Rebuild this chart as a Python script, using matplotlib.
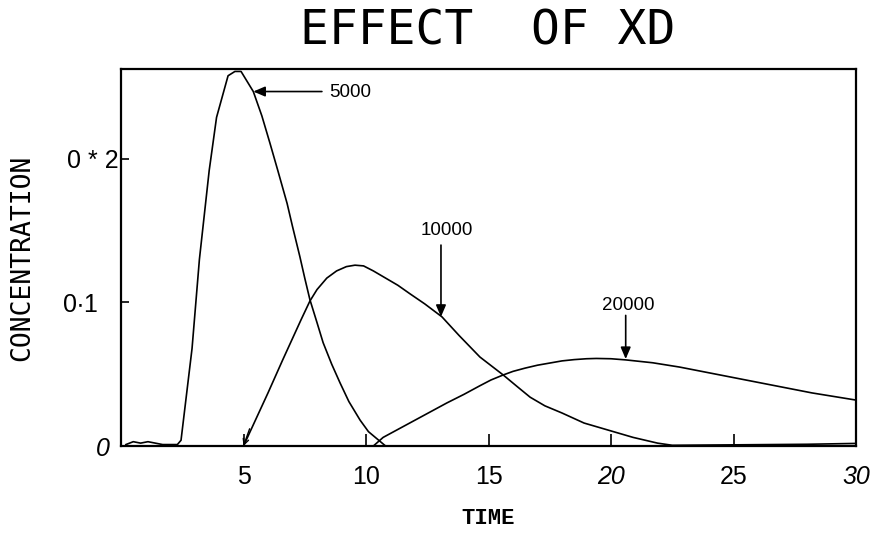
import matplotlib
matplotlib.use("Agg")
import matplotlib.pyplot as plt

# concentration vs time for three XD values
t_5000 = [0.2, 0.5, 0.8, 1.1, 1.4, 1.7, 2.0, 2.3, 2.45, 2.9, 3.2, 3.6, 3.9,
          4.37, 4.65, 4.9, 5.4, 5.75, 6.08, 6.4, 6.78, 7.0, 7.3, 7.5, 7.71,
          8.0, 8.25, 8.6, 8.94, 9.3, 9.76, 10.1, 10.45, 10.8, 12.0, 15.0]
c_5000 = [0.001, 0.003, 0.002, 0.003, 0.002, 0.001, 0.001, 0.001, 0.004,
          0.068, 0.130, 0.192, 0.229, 0.258, 0.261, 0.261, 0.247, 0.230,
          0.211, 0.192, 0.169, 0.153, 0.132, 0.117, 0.102, 0.086, 0.072,
          0.057, 0.044, 0.031, 0.018, 0.010, 0.005, 0.0, 0.0, 0.0]

t_10000 = [5.0, 6.0, 6.6, 7.35, 7.71, 8.0, 8.4, 8.8, 9.2, 9.55, 9.9, 10.3,
           10.8, 11.3, 11.8, 12.4, 13.1, 13.8, 14.65, 15.6, 16.2, 16.7,
           17.3, 18.0, 18.9, 19.9, 20.9, 21.9, 22.5, 25.0, 28.0, 30.0]
c_10000 = [0.0, 0.037, 0.060, 0.088, 0.101, 0.109, 0.117, 0.122, 0.125,
           0.126, 0.1255, 0.122, 0.117, 0.112, 0.106, 0.099, 0.090, 0.077,
           0.062, 0.0495, 0.041, 0.034, 0.028, 0.023, 0.016, 0.011, 0.006,
           0.002, 0.0005, 0.0008, 0.0012, 0.0018]

t_20000 = [10.3, 10.7, 12.0, 13.3, 14.0, 14.65, 15.1, 15.6, 16.0, 16.5,
           17.0, 17.4, 18.0, 18.5, 19.0, 19.4, 20.0, 20.6, 21.7, 22.8, 24.0,
           25.5, 27.0, 28.2, 30.0]
c_20000 = [0.0, 0.006, 0.018, 0.030, 0.036, 0.042, 0.046, 0.0495, 0.052,
           0.0543, 0.0563, 0.0575, 0.0593, 0.0602, 0.0608, 0.061, 0.0608,
           0.060, 0.058, 0.055, 0.051, 0.046, 0.041, 0.037, 0.032]

# labels: text, arrow tip (on curve), arrow tail, text position
labels = ['5000', '10000', '20000']
tips = [(5.4, 0.247), (13.06, 0.090), (20.6, 0.0606)]
tails = [(8.2, 0.247), (13.06, 0.140), (20.6, 0.091)]
text_pos = [(8.5, 0.246), (13.3, 0.150), (20.7, 0.098)]

xticks = [5, 10, 15, 20, 25, 30]
xtick_labels = ['5', '10', '15', '20', '25', '30']
yticks = [0, 0.1, 0.2]
ytick_labels = ['0', '0\u22191', '0 * 2']

fig = plt.figure(figsize=(8.71, 5.34), dpi=100)
ax = fig.add_axes([121 / 871, 88 / 534, 735 / 871, 377 / 534])

for t, c in [(t_5000, c_5000), (t_10000, c_10000), (t_20000, c_20000)]:
    ax.plot(t, c, color='black', lw=1.2)

ax.set_xlim(0, 30)
ax.set_ylim(0, 0.2627)

for spine in ax.spines.values():
    spine.set_linewidth(1.6)

# curve labels with arrows
for lab, tip, tail, pos in zip(labels, tips, tails, text_pos):
    ax.annotate('', xy=tip, xytext=tail,
                arrowprops=dict(arrowstyle='-|>,head_length=0.7,head_width=0.3',
                                color='black', lw=1.2, shrinkA=0, shrinkB=0))
    ha = 'left' if lab == '5000' else 'center'
    ax.text(pos[0], pos[1], lab, ha=ha, va='center', fontsize=13.5,
            family='Liberation Sans', fontweight='medium')

# small arrow at the start of the 10000 curve
ax.annotate('', xy=(5.0, 0.0), xytext=(5.25, 0.012),
            arrowprops=dict(arrowstyle='->,head_length=0.4,head_width=0.2',
                            color='black', lw=1.0, shrinkA=0, shrinkB=0))

ax.set_xticks(xticks)
ax.set_xticklabels(xtick_labels, family='Liberation Sans', fontsize=18)
ax.set_yticks(yticks)
ax.set_yticklabels(ytick_labels, family='Liberation Sans', fontsize=18)
ax.tick_params(axis='x', direction='in', length=9, width=1.2, pad=14)
ax.tick_params(axis='y', direction='in', length=6, width=1.2)

for lab in ax.get_xticklabels():
    if lab.get_text() in ('20', '30'):
        lab.set_style('italic')
ax.get_yticklabels()[0].set_style('italic')

ypads = [8, 17, 2]
for tick, p in zip(ax.yaxis.get_major_ticks(), ypads):
    tick.set_pad(p)

ax.set_xlabel('TIME', family='Liberation Mono', fontweight='bold',
              fontsize=16, va='center')
ax.xaxis.set_label_coords(0.5, -0.191)
ax.set_ylabel('CONCENTRATION', family='DejaVu Sans Mono', fontsize=19,
              va='center')
ax.yaxis.set_label_coords(-0.134, 0.5)

fig.text(488 / 871, 1 - 31 / 534, 'EFFECT  OF XD', family='DejaVu Sans Mono',
         fontsize=34.5, ha='center', va='center')

fig.savefig('out.png', dpi=100)
